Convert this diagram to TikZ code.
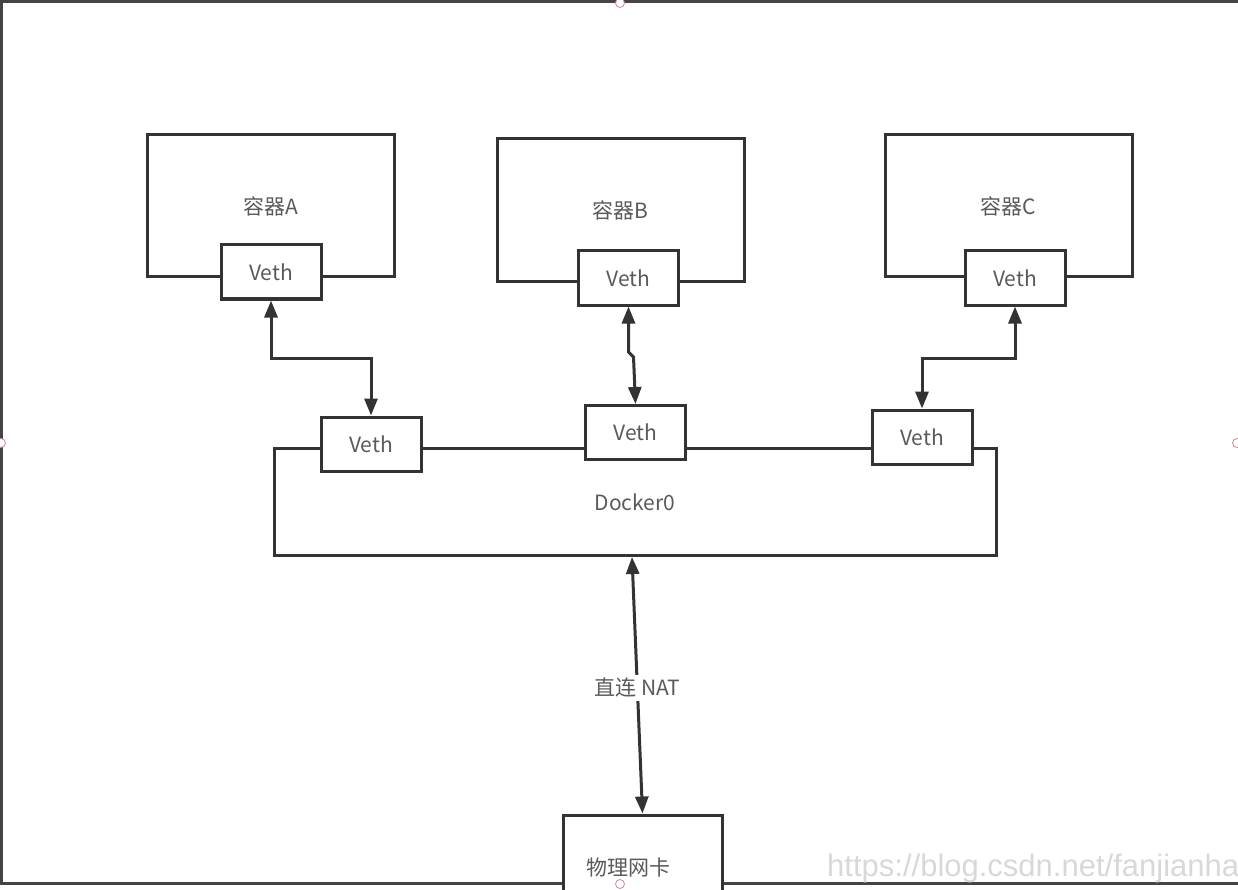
\documentclass[tikz,border=0pt]{standalone}
\usepackage{fontspec}
\setmainfont{Noto Sans CJK SC}
\newfontfamily\wmfont{Liberation Sans}
\usetikzlibrary{arrows.meta}
\definecolor{linec}{HTML}{333333}
\definecolor{textc}{HTML}{5A5A5A}
\definecolor{framec}{HTML}{444444}
\definecolor{handlec}{HTML}{D08890}
\definecolor{wmc}{HTML}{D8D8D8}
\begin{document}
\begin{tikzpicture}[x=1pt,y=-1pt,
  boxc/.style={draw=linec,line width=3pt,fill=white,inner sep=0pt,text=textc,
    font=\fontsize{21}{25}\selectfont},
  container/.style={boxc,minimum width=247pt,minimum height=142pt},
  vethbox/.style={boxc,minimum width=100pt,minimum height=54pt},
  link/.style={draw=linec,line width=3pt,{Triangle[length=17pt,width=13pt]}-{Triangle[length=17pt,width=13pt]}},
  handle/.style={draw=handlec,fill=white,line width=0.8pt}]
\useasboundingbox (0,0) rectangle (1238,890);
\clip (0,0) rectangle (1238,890);
% outer frame (canvas border)
\draw[framec,line width=3pt] (0,2) -- (1238,2);
\draw[framec,line width=3pt] (1.5,2) -- (1.5,883);
\draw[framec,line width=3pt] (0,883) -- (1238,883);
% containers
\node[container] (cA) at (270.5,206) {容器A};
\node[container,minimum height=143pt] (cB) at (620.5,210.5) {容器B};
\node[container] (cC) at (1008.5,206) {容器C};
\node[vethbox] (vA) at (271,272) {Veth};
\node[vethbox] (vB) at (628.5,278) {Veth};
\node[vethbox] (vC) at (1015,278) {Veth};
% docker0 bridge
\node[boxc,minimum width=722pt,minimum height=107pt] (dk) at (635,502) {Docker0};
\node[vethbox] (wA) at (371,444) {Veth};
\node[vethbox] (wB) at (635.5,432.5) {Veth};
\node[vethbox] (wC) at (922,437) {Veth};
% physical NIC
\node[boxc,minimum width=159pt,minimum height=92pt] (nic) at (642.5,861) {};
\node[text=textc,font=\fontsize{21}{25}\selectfont] (nicl) at (628,868) {物理网卡};
% veth pair links
\draw[link] (vA.south) -- (vA.south |- 0,358) -| (wA.north);
\draw[link] (vB.south) -- (vB.south |- 0,352) -- ([xshift=5pt]vB.south |- 0,357) -- (wB.north);
\draw[link] (vC.south) -- (vC.south |- 0,358) -| (wC.north);
% NAT link
\draw[link] ([xshift=-3pt]dk.south) -- node[pos=0.51,fill=white,inner sep=3pt,text=textc,font=\fontsize{21}{25}\selectfont] (nat) {直连 NAT} (nic.north);
% watermark
\node[anchor=base west,inner sep=0pt,text=wmc,font=\wmfont\fontsize{31}{36}\selectfont] (wm) at (827,876) {https://blog.csdn.net/fanjianha};
% selection handles
\draw[handle] (620,3) circle (4.5pt);
\draw[handle] (1,443) circle (4.5pt);
\draw[handle] (1237,443) circle (4.5pt);
\draw[handle] (620,884) circle (4.5pt);
\end{tikzpicture}
\end{document}
